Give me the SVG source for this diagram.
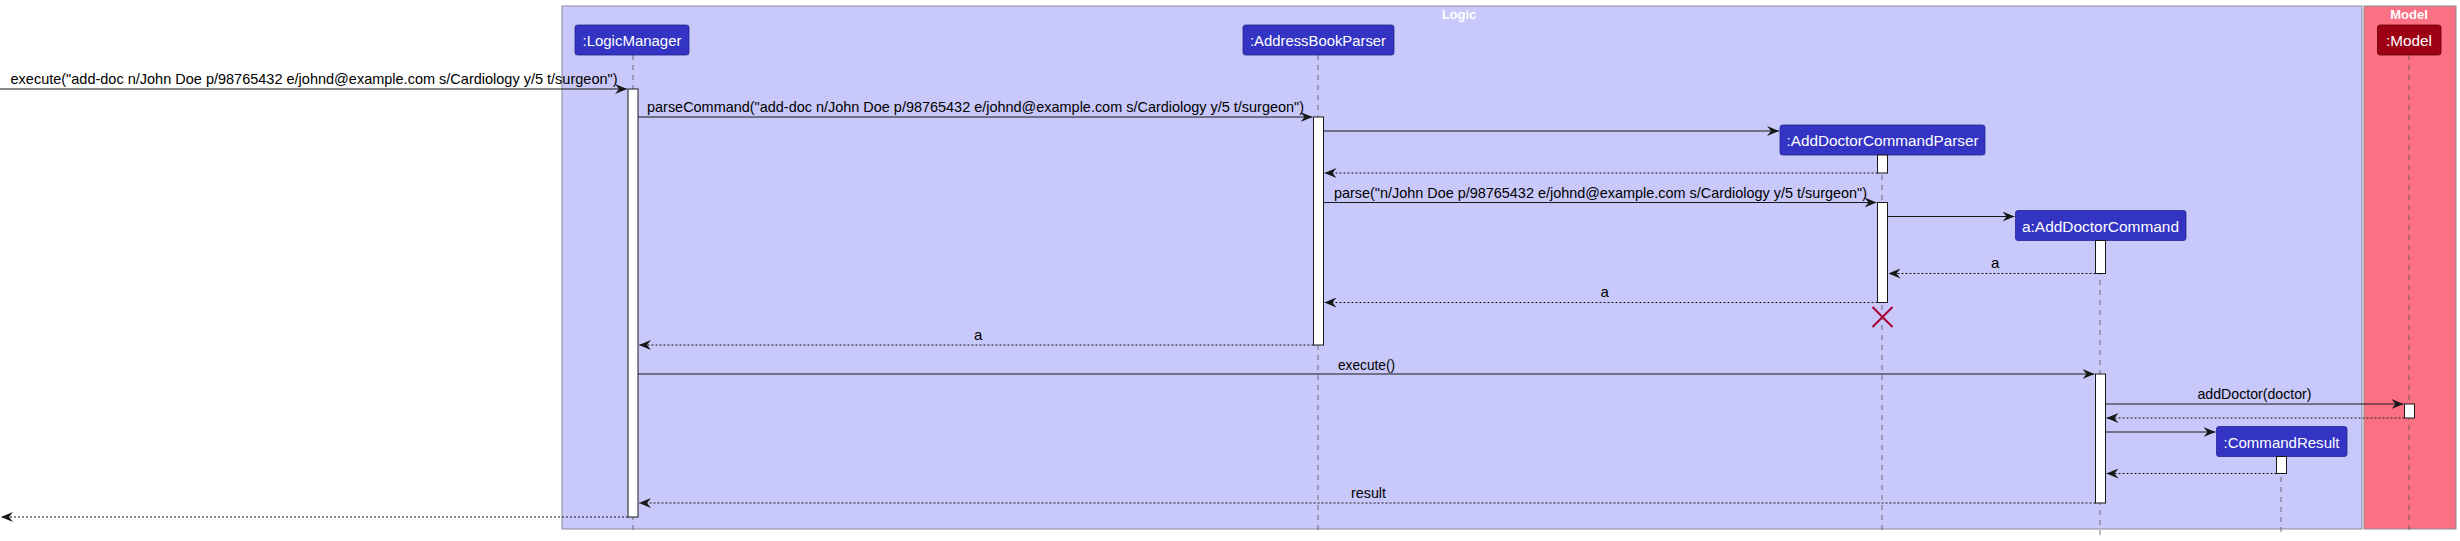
<svg xmlns="http://www.w3.org/2000/svg" width="2460" height="541" viewBox="0 0 2460 541">
<style>
.grp-logic{fill:#C8C8FA;stroke:#8A8A9A;stroke-width:1}
.grp-model{fill:#FB7082;stroke:#8A8A9A;stroke-width:1}
.gtitle{font-family:"Liberation Sans",Arial,sans-serif;font-size:13px;font-weight:bold;fill:#FFFFFF;text-anchor:middle}
.pbox{fill:#3333C4;stroke:#24248F;stroke-width:0.8}
.mbox{fill:#9D0012;stroke:#6A000C;stroke-width:0.8}
.ptext{font-family:"Liberation Sans",Arial,sans-serif;font-size:15.5px;fill:#FFFFFF;text-anchor:middle}
.life{stroke:#555555;stroke-width:0.8;stroke-dasharray:5,5;fill:none}
.act{fill:#FFFFFF;stroke:#181818;stroke-width:1}
.msg{stroke:#181818;stroke-width:1;fill:none}
.ret{stroke:#181818;stroke-width:1;stroke-dasharray:2,2;fill:none}
.lbl{font-family:"Liberation Sans",Arial,sans-serif;font-size:15px;fill:#000000}
.destroy{stroke:#A80036;stroke-width:2}
</style>
<defs>
<marker id="ah" viewBox="0 0 12 10" refX="12" refY="5" markerWidth="12" markerHeight="10" markerUnits="userSpaceOnUse" orient="auto">
<path d="M0,0 L12,5 L0,10 L4,5 Z" fill="#181818"/>
</marker>
</defs>
<rect width="2460" height="541" fill="#FFFFFF"/>

<g id="group-logic">
<rect class="grp-logic" x="562" y="6" width="1800" height="523"/>
<text class="gtitle" x="1459" y="19">Logic</text>
</g>
<g id="group-model">
<rect class="grp-model" x="2364" y="6" width="92" height="523"/>
<text class="gtitle" x="2409" y="19">Model</text>
</g>

<g id="lifelines">
<line class="life" x1="633" y1="55" x2="633" y2="533"/>
<line class="life" x1="1318" y1="55" x2="1318" y2="533"/>
<line class="life" x1="1882" y1="155" x2="1882" y2="533"/>
<line class="life" x1="2100" y1="240" x2="2100" y2="535"/>
<line class="life" x1="2281" y1="457" x2="2281" y2="533"/>
<line class="life" x1="2409" y1="55" x2="2409" y2="533"/>
</g>

<g id="node-logicmanager">
<rect class="pbox" x="575" y="25" width="114" height="30" rx="2.5"/>
<text class="ptext" x="632" y="46" textLength="99" lengthAdjust="spacingAndGlyphs">:LogicManager</text>
</g>
<g id="node-addressbookparser">
<rect class="pbox" x="1243" y="25" width="151" height="30" rx="2.5"/>
<text class="ptext" x="1318" y="46" textLength="136" lengthAdjust="spacingAndGlyphs">:AddressBookParser</text>
</g>
<g id="node-adcp">
<rect class="pbox" x="1780" y="125" width="205" height="30" rx="2.5"/>
<text class="ptext" x="1882.5" y="146" textLength="192" lengthAdjust="spacingAndGlyphs">:AddDoctorCommandParser</text>
</g>
<g id="node-adc">
<rect class="pbox" x="2015.5" y="210.5" width="170.5" height="30" rx="2.5"/>
<text class="ptext" x="2100.5" y="231.5" textLength="157" lengthAdjust="spacingAndGlyphs">a:AddDoctorCommand</text>
</g>
<g id="node-commandresult">
<rect class="pbox" x="2216.5" y="426.5" width="130.5" height="30" rx="2.5"/>
<text class="ptext" x="2281.5" y="447.5" textLength="116" lengthAdjust="spacingAndGlyphs">:CommandResult</text>
</g>
<g id="node-model">
<rect class="mbox" x="2377.5" y="25" width="63.5" height="30" rx="2.5"/>
<text class="ptext" x="2409" y="46" textLength="46" lengthAdjust="spacingAndGlyphs">:Model</text>
</g>

<g id="activations">
<rect class="act" x="628" y="89" width="10" height="428"/>
<rect class="act" x="1313.5" y="117" width="10" height="228"/>
<rect class="act" x="1877.5" y="155" width="10" height="18"/>
<rect class="act" x="1877.5" y="202.5" width="10" height="100"/>
<rect class="act" x="2095.5" y="240.5" width="10" height="33"/>
<rect class="act" x="2095.5" y="374" width="10" height="129"/>
<rect class="act" x="2404.5" y="404" width="10" height="14"/>
<rect class="act" x="2276.5" y="456.5" width="10" height="17"/>
</g>

<g id="connectors">
<line class="msg" x1="0" y1="89" x2="627" y2="89" marker-end="url(#ah)"/>
<text class="lbl" x="10.5" y="83.5" textLength="607" lengthAdjust="spacingAndGlyphs">execute("add-doc n/John Doe p/98765432 e/johnd@example.com s/Cardiology y/5 t/surgeon")</text>

<line class="msg" x1="638" y1="117" x2="1312.5" y2="117" marker-end="url(#ah)"/>
<text class="lbl" x="647" y="112" textLength="657" lengthAdjust="spacingAndGlyphs">parseCommand("add-doc n/John Doe p/98765432 e/johnd@example.com s/Cardiology y/5 t/surgeon")</text>

<line class="msg" x1="1323.5" y1="131" x2="1779" y2="131" marker-end="url(#ah)"/>

<line class="ret" x1="1877.5" y1="173" x2="1324.5" y2="173" marker-end="url(#ah)"/>

<line class="msg" x1="1323.5" y1="202.5" x2="1876.5" y2="202.5" marker-end="url(#ah)"/>
<text class="lbl" x="1334" y="197.5" textLength="533" lengthAdjust="spacingAndGlyphs">parse("n/John Doe p/98765432 e/johnd@example.com s/Cardiology y/5 t/surgeon")</text>

<line class="msg" x1="1887.5" y1="216.5" x2="2014.5" y2="216.5" marker-end="url(#ah)"/>

<line class="ret" x1="2095.5" y1="273.5" x2="1888.5" y2="273.5" marker-end="url(#ah)"/>
<text class="lbl" x="1991" y="268">a</text>

<line class="ret" x1="1877.5" y1="302.5" x2="1324.5" y2="302.5" marker-end="url(#ah)"/>
<text class="lbl" x="1600.5" y="297">a</text>

<line class="ret" x1="1313.5" y1="345" x2="639" y2="345" marker-end="url(#ah)"/>
<text class="lbl" x="974" y="340">a</text>

<line class="msg" x1="638" y1="374" x2="2094.5" y2="374" marker-end="url(#ah)"/>
<text class="lbl" x="1338" y="369.5" textLength="57" lengthAdjust="spacingAndGlyphs">execute()</text>

<line class="msg" x1="2105.5" y1="404" x2="2403.5" y2="404" marker-end="url(#ah)"/>
<text class="lbl" x="2197.5" y="398.5" textLength="114" lengthAdjust="spacingAndGlyphs">addDoctor(doctor)</text>

<line class="ret" x1="2404.5" y1="418" x2="2106.5" y2="418" marker-end="url(#ah)"/>

<line class="msg" x1="2105.5" y1="432" x2="2215.5" y2="432" marker-end="url(#ah)"/>

<line class="ret" x1="2276.5" y1="473.5" x2="2106.5" y2="473.5" marker-end="url(#ah)"/>

<line class="ret" x1="2095.5" y1="503" x2="639" y2="503" marker-end="url(#ah)"/>
<text class="lbl" x="1351" y="497.5" textLength="35" lengthAdjust="spacingAndGlyphs">result</text>

<line class="ret" x1="628" y1="517" x2="1" y2="517" marker-end="url(#ah)"/>
</g>

<g id="destroy-adcp">
<line class="destroy" x1="1872.5" y1="307" x2="1892.5" y2="327"/>
<line class="destroy" x1="1892.5" y1="307" x2="1872.5" y2="327"/>
</g>
</svg>
